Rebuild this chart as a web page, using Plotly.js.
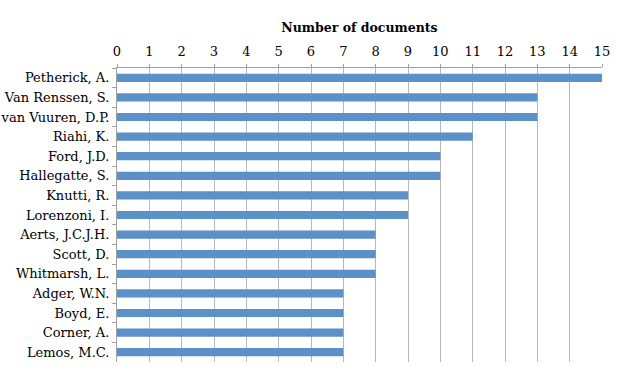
<!DOCTYPE html>
<html>
<head>
<meta charset="utf-8">
<script src="https://cdn.plot.ly/plotly-3.0.1.min.js"></script>
<style>html,body{margin:0;padding:0;background:#fff;}#chart{width:618px;height:371px;}</style>
</head>
<body>
<div id="chart"></div>
<script>
var authors = ["Petherick, A.", "Van Renssen, S.", "van Vuuren, D.P.", "Riahi, K.", "Ford, J.D.", "Hallegatte, S.", "Knutti, R.", "Lorenzoni, I.", "Aerts, J.C.J.H.", "Scott, D.", "Whitmarsh, L.", "Adger, W.N.", "Boyd, E.", "Corner, A.", "Lemos, M.C."];
var documents = [15, 13, 13, 11, 10, 10, 9, 9, 8, 8, 8, 7, 7, 7, 7];
var xTicks = [0,1,2,3,4,5,6,7,8,9,10,11,12,13,14,15];

var font = "DejaVu Serif, Liberation Serif, serif";
Plotly.newPlot("chart", [{
  type: "bar",
  orientation: "h",
  x: documents,
  y: authors,
  marker: {color: "#5b90c9", line: {width: 0}},
  width: 0.42,
  hoverinfo: "none"
}], {
  width: 618, height: 371,
  margin: {l: 117, r: 16, t: 68, b: 9, pad: 0},
  paper_bgcolor: "#fff", plot_bgcolor: "#fff",
  showlegend: false,
  font: {family: font, size: 13, color: "#000"},
  xaxis: {
    side: "top",
    range: [0, 15],
    tickvals: xTicks,
    ticktext: xTicks.map(String),
    showgrid: true, gridcolor: "#b8b8b8", gridwidth: 1,
    showline: true, linecolor: "#a0a0a0", linewidth: 1,
    ticks: "outside", ticklen: 3, tickcolor: "#a0a0a0",
    zeroline: false,
    ticklabelstandoff: 3,
    tickfont: {family: font, size: 13, color: "#000"},
    title: {text: "<b>Number of documents</b>", font: {family: font, size: 12.5, color: "#000"}, standoff: 8}
  },
  yaxis: {
    type: "category",
    autorange: "reversed",
    showgrid: false,
    showline: true, linecolor: "#a0a0a0", linewidth: 1,
    ticks: "outside", ticklen: 4, tickcolor: "#a0a0a0",
    tickson: "boundaries",
    zeroline: false,
    ticklabelstandoff: 4,
    tickfont: {family: font, size: 13, color: "#000"}
  },
  bargap: 0.58
}, {displayModeBar: false, staticPlot: true});
</script>
</body>
</html>
